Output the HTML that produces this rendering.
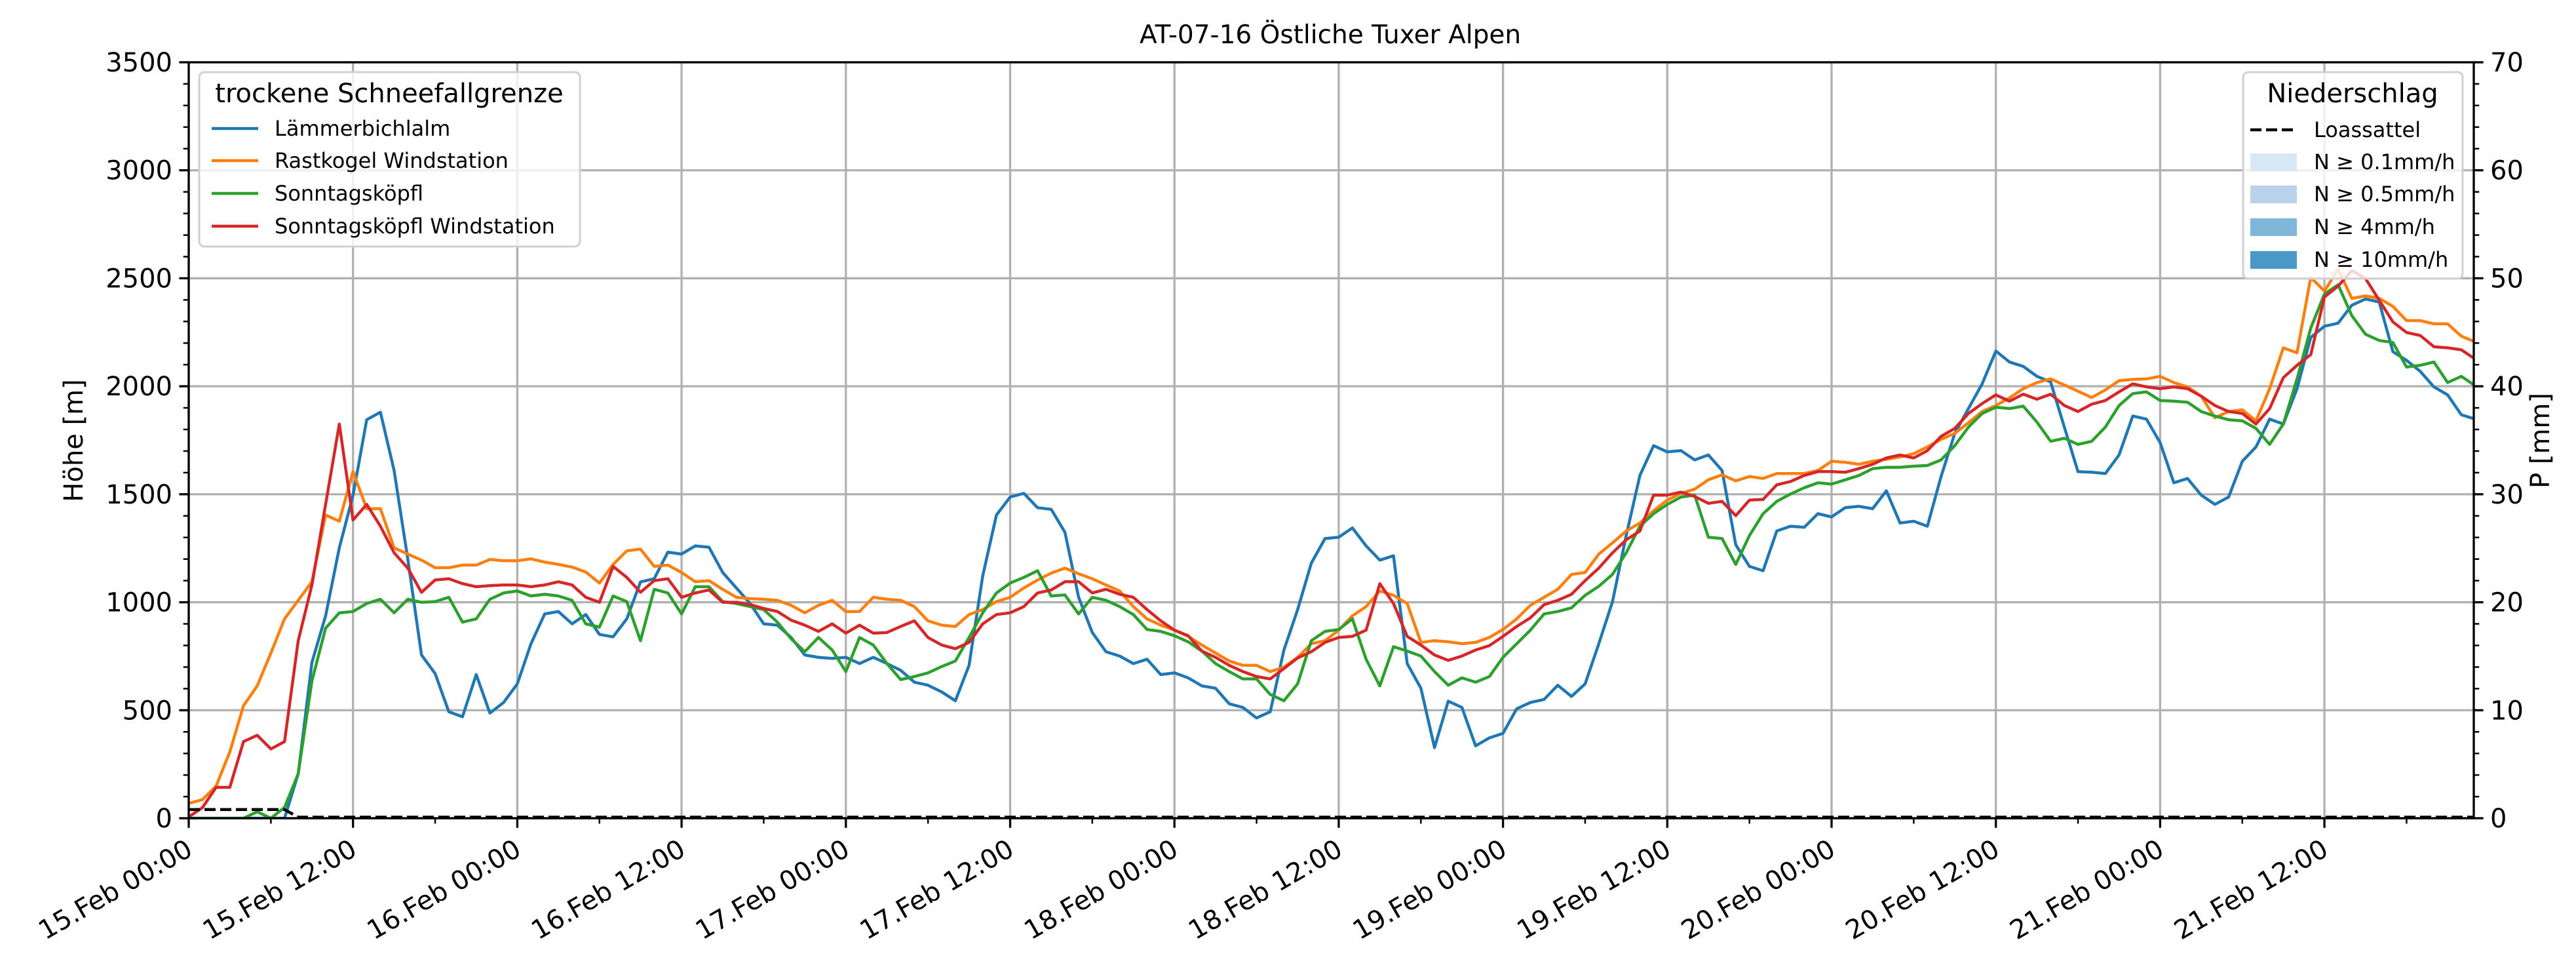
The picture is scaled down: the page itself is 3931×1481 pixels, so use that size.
<!DOCTYPE html>
<html><head><meta charset="utf-8">
<style>
html,body{margin:0;padding:0;background:#fff;}
svg{display:block;font-family:"DejaVu Sans","Liberation Sans",sans-serif;}
</style></head>
<body>
<svg id="chart" width="3931" height="1481" viewBox="0 0 3931 1481" xmlns="http://www.w3.org/2000/svg">
<rect x="0" y="0" width="3931" height="1481" fill="#fff"/>
<g id="grid"></g>
<g id="series"></g>
<g id="axes"></g>
<text x="2030" y="66" font-size="39" text-anchor="middle">AT-07-16 Östliche Tuxer Alpen</text>
<text transform="translate(126,672) rotate(-90)" font-size="40" text-anchor="middle">Höhe [m]</text>
<text transform="translate(3890,672) rotate(-90)" font-size="40" text-anchor="middle">P [mm]</text>
<g id="legend1">
  <rect x="304" y="110" width="581" height="266" rx="8" fill="#fff" fill-opacity="0.8" stroke="#d0d0d0" stroke-width="3"/>
  <text x="594" y="156" font-size="40" text-anchor="middle">trockene Schneefallgrenze</text>
  <g><line x1="323" y1="196" x2="394" y2="196" stroke="#1f77b4" stroke-width="4.5"/><text x="419" y="207" font-size="32">Lämmerbichlalm</text></g>
  <g><line x1="323" y1="245" x2="394" y2="245" stroke="#ff7f0e" stroke-width="4.5"/><text x="419" y="256" font-size="32">Rastkogel Windstation</text></g>
  <g><line x1="323" y1="295" x2="394" y2="295" stroke="#2ca02c" stroke-width="4.5"/><text x="419" y="306" font-size="32">Sonntagsköpfl</text></g>
  <g><line x1="323" y1="345" x2="394" y2="345" stroke="#d62728" stroke-width="4.5"/><text x="419" y="356" font-size="32">Sonntagsköpfl Windstation</text></g>
</g>
<g id="legend2">
  <rect x="3423" y="110" width="335" height="315" rx="8" fill="#fff" fill-opacity="0.8" stroke="#d0d0d0" stroke-width="3"/>
  <text x="3590" y="156" font-size="40" text-anchor="middle">Niederschlag</text>
  <g><line x1="3434" y1="198" x2="3505" y2="198" stroke="#000" stroke-width="4.5" stroke-dasharray="17,7"/><text x="3531" y="209" font-size="32">Loassattel</text></g>
  <g><rect x="3434" y="234" width="71" height="27" fill="#d8e7f4"/><text x="3531" y="258" font-size="32">N ≥ 0.1mm/h</text></g>
  <g><rect x="3434" y="283" width="71" height="27" fill="#b9d4ea"/><text x="3531" y="307" font-size="32">N ≥ 0.5mm/h</text></g>
  <g><rect x="3434" y="333" width="71" height="27" fill="#80b7d8"/><text x="3531" y="357" font-size="32">N ≥ 4mm/h</text></g>
  <g><rect x="3434" y="383" width="71" height="27" fill="#4a98c9"/><text x="3531" y="407" font-size="32">N ≥ 10mm/h</text></g>
</g>
</svg>
<script>
const xTickLabels = ["15.Feb 00:00","15.Feb 12:00","16.Feb 00:00","16.Feb 12:00","17.Feb 00:00","17.Feb 12:00","18.Feb 00:00","18.Feb 12:00","19.Feb 00:00","19.Feb 12:00","20.Feb 00:00","20.Feb 12:00","21.Feb 00:00","21.Feb 12:00"];
const yTicks = [0,500,1000,1500,2000,2500,3000,3500];
const y2Ticks = [0,10,20,30,40,50,60,70];
const laemmer = [0,0,0,0,0,0,0,0,206,722,937,1252,1495,1845,1880,1610,1200,756,670,493,470,665,487,536,622,808,946,957,900,943,851,840,923,1094,1109,1232,1223,1261,1255,1138,1066,994,900,894,837,756,745,740,
745,716,745,716,685,630,616,585,544,708,1123,1404,1487,1504,1438,1430,1324,1023,860,771,751,716,736,665,673,650,613,602,530,513,464,493,779,966,1181,1295,1301,1344,1261,1195,1215,716,602,327,542,513,335,372,393,507,536,550,616,564,622,808,1003,1309,1587,1725,1696,1702,1659,1682,
1610,1266,1166,1146,1330,1352,1347,1410,1395,1438,1444,1433,1516,1367,1375,1352,1582,1782,1897,2011,2163,2112,2092,2046,2020,1811,1605,1602,1596,1682,1862,1848,1739,1553,1573,1496,1453,1487,1653,1719,1848,1825,1989,2226,2278,2292,2375,2404,2390,2160,2120,2069,1997,1960,1868,1848];
const rastkogel = [69,86,149,307,521,613,765,923,1009,1095,1404,1375,1605,1433,1433,1252,1223,1195,1160,1160,1172,1172,1198,1192,1192,1201,1186,1175,1163,1140,1089,1175,1238,1246,1166,1172,1138,1095,1100,1060,1023,1017,1014,1009,986,951,986,1009,
957,957,1023,1014,1009,980,914,894,888,943,966,1003,1023,1066,1103,1135,1158,1132,1109,1080,1052,980,923,894,871,842,802,765,728,708,708,679,699,745,808,822,871,937,980,1052,1032,994,814,822,817,808,814,837,874,923,986,1023,1060,1129,1138,1223,1275,1330,1367,1424,1473,1504,1524,1567,
1590,1562,1582,1573,1596,1596,1596,1610,1653,1648,1639,1653,1662,1673,1688,1719,1754,1782,1831,1883,1911,1946,1989,2017,2034,2006,1977,1948,1983,2026,2032,2034,2046,2017,1997,1954,1854,1883,1891,1840,1989,2178,2155,2504,2441,2542,2407,2418,2407,2370,2304,2304,2289,2289,2232,2206];
const sonntag = [0,0,0,0,0,30,0,50,206,636,880,951,957,994,1014,951,1014,1000,1003,1023,908,923,1014,1043,1052,1029,1037,1029,1009,900,885,1029,1003,822,1060,1043,946,1072,1072,1003,994,980,966,908,831,771,837,779,
679,837,802,716,642,656,673,702,728,837,951,1043,1089,1115,1146,1029,1034,946,1023,1009,980,943,874,865,845,817,774,716,679,645,645,573,544,622,822,865,874,923,736,613,794,774,751,679,616,650,630,656,745,808,871,946,957,974,1032,1074,1129,1229,1352,1410,1453,1487,1496,1301,
1295,1175,1309,1410,1467,1501,1530,1553,1547,1567,1587,1619,1625,1625,1630,1633,1659,1725,1811,1874,1903,1897,1908,1834,1745,1759,1731,1745,1811,1911,1966,1974,1934,1931,1926,1883,1862,1845,1840,1805,1731,1825,2034,2269,2427,2470,2327,2241,2212,2203,2089,2097,2112,2017,2046,2003];
const sonntagWind = [6,49,143,143,355,384,321,355,822,1080,1453,1825,1381,1453,1352,1229,1158,1046,1103,1109,1086,1072,1077,1080,1080,1072,1080,1095,1080,1023,1000,1166,1115,1046,1100,1109,1023,1043,1057,1000,1000,989,971,957,917,894,865,900,
857,894,857,860,888,914,837,802,785,814,900,943,951,980,1043,1057,1095,1095,1043,1060,1037,1023,966,914,871,845,774,745,708,679,656,645,693,742,771,814,837,842,871,1086,994,842,802,756,731,751,779,799,842,888,928,989,1009,1037,1100,1158,1229,1289,1330,1496,1496,1510,1490,1458,
1467,1401,1473,1476,1544,1559,1587,1605,1605,1602,1619,1639,1668,1682,1668,1702,1768,1805,1874,1920,1960,1931,1963,1940,1963,1911,1883,1917,1934,1974,2011,1997,1989,1997,1989,1954,1911,1883,1874,1825,1897,2040,2097,2146,2413,2464,2536,2499,2398,2298,2249,2235,2183,2178,2169,2126];
const loassattel = [0.8,0.8,0.8,0.8,0.8,0.8,0.8,0.8].concat(new Array(160).fill(0.1));

const NS='http://www.w3.org/2000/svg';
const L=288,R=3775,T=95,B=1248;
function xs(h){return L + h/12*250.7;}
function ys(v){return B - v/3500*(B-T);}
function y2s(v){return B - v/70*(B-T);}
function mk(tag,attrs,parent){const e=document.createElementNS(NS,tag);for(const k in attrs)e.setAttribute(k,attrs[k]);parent.appendChild(e);return e;}
const grid=document.getElementById('grid'), axes=document.getElementById('axes'), series=document.getElementById('series');

xTickLabels.forEach((lab,i)=>{const x=xs(i*12);const g=mk('line',{x1:x,y1:T,x2:x,y2:B,stroke:'#b0b0b0','stroke-width':3.3},grid);

});
yTicks.forEach(v=>{const y=ys(v);const g=mk('line',{x1:L,y1:y,x2:R,y2:y,stroke:'#b0b0b0','stroke-width':3.3},grid);

});

function drawLine(arr,scale,color,name,dash){
  let d='';arr.forEach((v,i)=>{d+=(i?'L':'M')+xs(i).toFixed(1)+','+scale(v).toFixed(1);});
  const p=mk('path',{d:d,fill:'none',stroke:color,'stroke-width':4.5,'stroke-linejoin':'round'},series);
  if(dash)p.setAttribute('stroke-dasharray',dash);
  
  
}
const clip=mk('clipPath',{id:'pc'},document.getElementById('chart'));
mk('rect',{x:L,y:T,width:R-L,height:B-T},clip);
series.setAttribute('clip-path','url(#pc)');
drawLine(laemmer,ys,'#1f77b4','line-laemmerbichlalm');
drawLine(rastkogel,ys,'#ff7f0e','line-rastkogel-windstation');
drawLine(sonntag,ys,'#2ca02c','line-sonntagskoepfl');
drawLine(sonntagWind,ys,'#d62728','line-sonntagskoepfl-windstation');
drawLine(loassattel,y2s,'#000','line-loassattel-precip','17,7');

const sp=mk('rect',{x:L,y:T,width:R-L,height:B-T,fill:'none',stroke:'#000','stroke-width':3.3},axes);



xTickLabels.forEach((lab,i)=>{const x=xs(i*12);
  mk('line',{x1:x,y1:B,x2:x,y2:B+14.6,stroke:'#000','stroke-width':3.3},axes);
  const t=mk('text',{transform:'translate('+(x-6)+','+(B+30)+') rotate(-30)','font-size':40,'text-anchor':'end','dominant-baseline':'hanging'},axes);
  t.textContent=lab;
  
  
});
for(let h=6;h<167;h+=12){const x=xs(h);mk('line',{x1:x,y1:B,x2:x,y2:B+8.3,stroke:'#000','stroke-width':2.5},axes);}
yTicks.forEach(v=>{const y=ys(v);
  mk('line',{x1:L,y1:y,x2:L-14.6,y2:y,stroke:'#000','stroke-width':3.3},axes);
  const t=mk('text',{x:L-25,y:y+14,'font-size':40,'text-anchor':'end'},axes);
  t.textContent=String(v);
  
  
});
for(let v=100;v<3500;v+=100){if(v%500===0)continue;const y=ys(v);mk('line',{x1:L,y1:y,x2:L-8.3,y2:y,stroke:'#000','stroke-width':2.5},axes);}
y2Ticks.forEach(v=>{const y=y2s(v);
  mk('line',{x1:R,y1:y,x2:R+14.6,y2:y,stroke:'#000','stroke-width':3.3},axes);
  const t=mk('text',{x:R+25,y:y+14,'font-size':40,'text-anchor':'start'},axes);
  t.textContent=String(v);
  
  
});
for(let v=2;v<70;v+=2){if(v%10===0)continue;const y=y2s(v);mk('line',{x1:R,y1:y,x2:R+8.3,y2:y,stroke:'#000','stroke-width':2.5},axes);}
</script>
</body></html>
